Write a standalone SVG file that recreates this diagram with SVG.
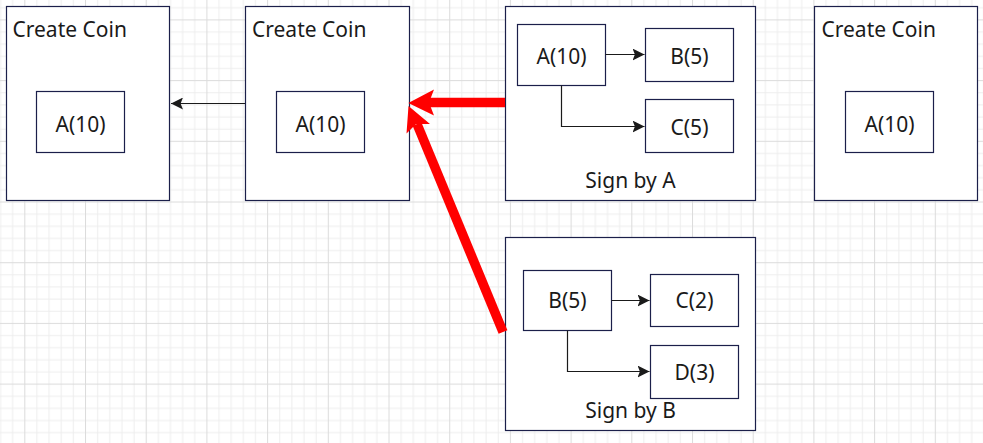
<svg xmlns="http://www.w3.org/2000/svg" width="983" height="443" viewBox="0 0 983 443">
<style>
.box{fill:#fff;stroke:#1b1f4a;stroke-width:1.2}
.t{font-family:"Noto Sans","Open Sans",sans-serif;font-size:21px;fill:#1a1a1a}
.c{text-anchor:middle}
.ln{fill:none;stroke:#1a1a1a;stroke-width:1.2}
.red{fill:none;stroke:#ff0000;stroke-width:9.5}
</style>
<defs>
<pattern id="grid" patternUnits="userSpaceOnUse" x="24.3" y="19.4" width="60.7" height="60.7">
<rect width="60.7" height="60.7" fill="#fff"/>
<g fill="#eeeeee">
<rect x="12.14" y="0" width="1" height="60.7"/><rect x="24.28" y="0" width="1" height="60.7"/><rect x="36.42" y="0" width="1" height="60.7"/><rect x="48.56" y="0" width="1" height="60.7"/>
<rect y="12.14" x="0" height="1" width="60.7"/><rect y="24.28" x="0" height="1" width="60.7"/><rect y="36.42" x="0" height="1" width="60.7"/><rect y="48.56" x="0" height="1" width="60.7"/>
</g>
<g fill="#dcdcdc"><rect x="0" y="0" width="1" height="60.7"/><rect x="0" y="0" width="60.7" height="1"/></g>
</pattern>
<marker id="ah" markerUnits="userSpaceOnUse" markerWidth="12" markerHeight="12" refX="10" refY="5" orient="auto" viewBox="0 0 10 10">
<path d="M0,0 L10,5 L0,10 L2,5 z" fill="#1a1a1a"/>
</marker>
</defs>
<rect width="983" height="443" fill="url(#grid)"/>

<g id="coin1">
<rect class="box" x="6.5" y="6.5" width="163" height="194"/>
<text class="t" x="12.5" y="36.5">Create Coin</text>
<g id="coin1-a"><rect class="box" x="36.5" y="91.5" width="88" height="61"/><text class="t c" x="80.5" y="131.5">A(10)</text></g>
</g>
<g id="coin2">
<rect class="box" x="245.5" y="6.5" width="164" height="194"/>
<text class="t" x="252" y="36.5">Create Coin</text>
<g id="coin2-a"><rect class="box" x="276.5" y="91.5" width="88" height="61"/><text class="t c" x="320.5" y="131.5">A(10)</text></g>
</g>
<g id="signA">
<rect class="box" x="505.5" y="6.5" width="250" height="194"/>
<text class="t c" x="630.5" y="187.5">Sign by A</text>
<g id="signA-a"><rect class="box" x="517.5" y="24.5" width="88" height="61"/><text class="t c" x="561.5" y="64">A(10)</text></g>
<g id="signA-b"><rect class="box" x="645.5" y="28.5" width="88" height="53"/><text class="t c" x="689.5" y="63.5">B(5)</text></g>
<g id="signA-c"><rect class="box" x="645.5" y="99.5" width="88" height="53"/><text class="t c" x="689.5" y="134.5">C(5)</text></g>
</g>
<g id="signB">
<rect class="box" x="505.5" y="237.5" width="250" height="193"/>
<text class="t c" x="630.5" y="417.5">Sign by B</text>
<g id="signB-b"><rect class="box" x="523.5" y="270.5" width="88" height="60"/><text class="t c" x="567.5" y="308">B(5)</text></g>
<g id="signB-c"><rect class="box" x="650.5" y="274.5" width="88" height="52"/><text class="t c" x="694.5" y="308">C(2)</text></g>
<g id="signB-d"><rect class="box" x="650.5" y="345.5" width="88" height="53"/><text class="t c" x="694.5" y="379.5">D(3)</text></g>
</g>
<g id="coin3">
<rect class="box" x="814.5" y="6.5" width="163" height="194"/>
<text class="t" x="821.5" y="36.5">Create Coin</text>
<g id="coin3-a"><rect class="box" x="845.5" y="91.5" width="88" height="61"/><text class="t c" x="889.5" y="131.5">A(10)</text></g>
</g>

<g id="connectors">
<line class="ln" x1="245" y1="103.5" x2="171" y2="103.5" marker-end="url(#ah)"/>
<line class="ln" x1="605.5" y1="54.5" x2="644.5" y2="54.5" marker-end="url(#ah)"/>
<polyline class="ln" points="561.5,85.5 561.5,126.5 644.5,126.5" marker-end="url(#ah)"/>
<line class="ln" x1="611.5" y1="300.5" x2="649.5" y2="300.5" marker-end="url(#ah)"/>
<polyline class="ln" points="567.5,330.5 567.5,371.5 649.5,371.5" marker-end="url(#ah)"/>
<g id="red-arrows">
<line class="red" x1="505" y1="102.5" x2="428" y2="102.5"/>
<polygon points="408.3,103 434,89.5 429,102.5 434,115.5" fill="#ff0000"/>
<line class="red" x1="503" y1="332" x2="417" y2="124"/>
<polygon points="408.5,106 406.5,133.5 416,124 430,124" fill="#ff0000"/>
</g>
</g>
</svg>
